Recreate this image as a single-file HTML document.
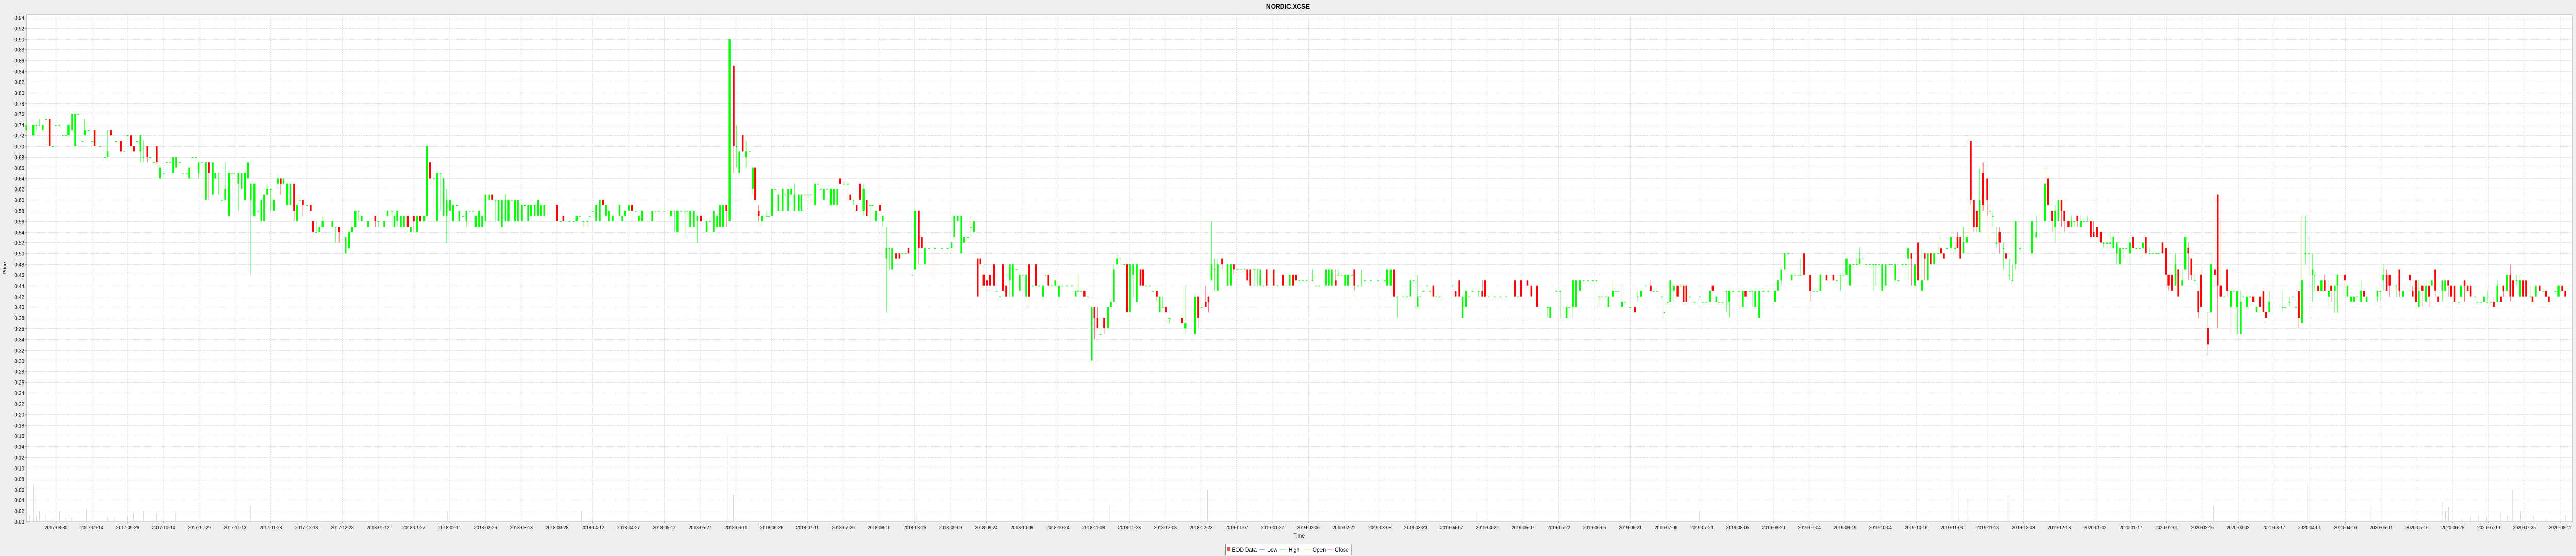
<!DOCTYPE html>
<html>
<head>
<meta charset="utf-8">
<style>
  html,body{margin:0;padding:0;background:#eeeeee;width:100%;height:100%;overflow:hidden;}
  body{font-family:"Liberation Sans",sans-serif;}
  svg{display:block;position:absolute;left:0;top:0;width:100vw;height:100vh;}
  text{font-family:"Liberation Sans",sans-serif;}
</style>
</head>
<body>
<svg id="chart" viewBox="0 0 5760 1080" preserveAspectRatio="none" xmlns="http://www.w3.org/2000/svg">
  <rect x="0" y="0" width="5760" height="1080" fill="#eeeeee"/>
  <text x="2880" y="17" text-anchor="middle" font-size="14" font-weight="bold" fill="#000">NORDIC.XCSE</text>
  <rect x="59" y="29" width="5693" height="984" fill="#ffffff" stroke="#aaaaaa" stroke-width="1"/>
  <g id="grid"></g>
  <g id="volume"></g>
  <g id="candles"></g>
  <g id="yaxis"></g>
  <g id="xaxis"></g>
  <text x="0" y="0" transform="translate(14,521) rotate(-90)" text-anchor="middle" font-size="11" fill="#000">Price</text>
  <text x="2905" y="1045" text-anchor="middle" font-size="12" fill="#000">Time</text>
  <g>
    <rect x="2739.5" y="1056.5" width="282" height="22" fill="#ffffff" stroke="#000" stroke-width="1"/>
    <g>
      <rect x="2743" y="1063" width="8" height="8" fill="#ff5555"/>
      <text x="2755" y="1072" font-size="12" fill="#000">EOD Data</text>
    </g>
    <g>
      <line x1="2815" y1="1067" x2="2829" y2="1067" stroke="#4455ee" stroke-width="1"/>
      <text x="2834" y="1072" font-size="12" fill="#000">Low</text>
    </g>
    <g>
      <line x1="2862" y1="1067" x2="2876" y2="1067" stroke="#55ee55" stroke-width="1"/>
      <text x="2881" y="1072" font-size="12" fill="#000">High</text>
    </g>
    <g>
      <line x1="2916" y1="1067" x2="2930" y2="1067" stroke="#eeee55" stroke-width="1"/>
      <text x="2935" y="1072" font-size="12" fill="#000">Open</text>
    </g>
    <g>
      <line x1="2966" y1="1067" x2="2980" y2="1067" stroke="#ee55ee" stroke-width="1"/>
      <text x="2985" y="1072" font-size="12" fill="#000">Close</text>
    </g>
  </g>
</svg>
<script>
// ---- data ----
const tickLabels = ["2017-08-30","2017-09-14","2017-09-29","2017-10-14","2017-10-29","2017-11-13","2017-11-28","2017-12-13","2017-12-28",
"2018-01-12","2018-01-27","2018-02-11","2018-02-26","2018-03-13","2018-03-28","2018-04-12","2018-04-27","2018-05-12","2018-05-27","2018-06-11","2018-06-26","2018-07-11","2018-07-26","2018-08-10","2018-08-25","2018-09-09","2018-09-24","2018-10-09","2018-10-24","2018-11-08","2018-11-23","2018-12-08","2018-12-23",
"2019-01-07","2019-01-22","2019-02-06","2019-02-21","2019-03-08","2019-03-23","2019-04-07","2019-04-22","2019-05-07","2019-05-22","2019-06-06","2019-06-21","2019-07-06","2019-07-21","2019-08-05","2019-08-20","2019-09-04","2019-09-19","2019-10-04","2019-10-19","2019-11-03","2019-11-18","2019-12-03","2019-12-18",
"2020-01-02","2020-01-17","2020-02-01","2020-02-16","2020-03-02","2020-03-17","2020-04-01","2020-04-16","2020-05-01","2020-05-16","2020-06-25","2020-07-10","2020-07-25","2020-08-11"];
const yTicks = [0,.02,.04,.06,.08,.10,.12,.14,.16,.18,.20,.22,.24,.26,.28,.30,.32,.34,.36,.38,.40,.42,.44,.46,.48,.50,.52,.54,.56,.58,.60,.62,.64,.66,.68,.70,.72,.74,.76,.78,.80,.82,.84,.86,.88,.90,.92,.94];

// days since 2017-08-18 (calendar days)
const days = [
0.0,2.9,4.1,5.4,6.8,8.3,9.8,10.9,12.2,13.7,15.2,16.6,17.6,19.1,20.4,21.7,23.5,24.4,25.9,27.4,28.5,30.8,32.7,33.9,35.4,37.6,39.4,40.9,42.2,43.8,45.0,46.2,47.6,48.9,50.6,51.8,53.3,54.4,55.8,57.5,58.7,60.1,61.3,62.6,64.2,65.5,67.0,68.0,69.4,70.9,72.0,73.3,74.9,76.2,77.9,79.0,80.4,81.6,83.1,84.7,86.0,87.0,88.5,89.9,91.4,92.6,93.8,95.3,96.8,98.2,99.4,100.7,102.1,103.4,105.1,106.3,107.5,109.0,110.3,111.9,113.1,114.4,115.6,117.3,118.8,119.8,121.2,122.5,123.8,127.9,129.3,130.7,133.4,134.9,136.1,137.5,138.8,140.1,142.9,145.8,147.1,149.6,151.0,
152.8,153.8,155.0,156.5,157.8,159.4,160.6,161.9,163.3,164.6,166.3,167.4,168.7,170.2,171.6,173.1,174.3,175.6,177.0,178.3,180.0,180.9,182.4,183.9,185.3,186.8,187.8,189.2,190.5,191.9,193.6,194.6,196.1,197.3,198.7,200.3,201.5,202.9,204.2,205.4,207.1,208.3,209.7,210.8,212.4,213.9,215.1,216.4,221.8,223.3,224.4,226.9,228.8,230.0,231.3,232.7,234.4,235.5,236.8,238.1,239.6,241.0,242.3,243.5,245.0,247.9,249.1,250.3,251.8,253.1,254.7,256.0,257.4,261.6,263.0,264.5,266.5,269.4,270.9,272.1,273.6,275.3,276.2,277.5,279.0,280.4,281.9,284.3,285.7,287.2,288.7,289.9,291.2,292.6,293.9,295.6,296.8,298.0,299.4,300.8,302.4,303.6,304.6,
306.1,307.5,309.4,310.3,311.6,313.0,314.4,316.0,317.2,318.4,319.7,321.1,322.7,323.9,325.3,326.7,327.9,329.6,330.9,332.0,333.3,334.8,336.2,337.4,338.9,340.1,341.8,343.3,344.3,345.7,347.0,348.5,349.9,351.1,352.6,353.6,355.1,356.8,357.8,359.4,360.7,361.9,363.6,364.8,366.1,367.5,368.7,370.4,371.4,372.9,374.2,375.5,377.3,379.7,382.7,385.1,386.6,387.8,389.2,390.8,392.0,393.4,394.7,396.1,397.6,398.8,400.1,401.4,402.7,404.4,405.6,406.9,408.1,409.5,411.0,412.3,413.8,415.1,416.4,417.9,419.1,420.8,421.9,423.2,424.9,426.0,427.2,428.6,430.0,431.5,433.0,435.0,436.9,438.5,439.6,440.8,442.2,443.6,445.2,446.4,447.7,449.0,450.4,452.0,453.2,454.5,456.0,
457.1,458.8,460.0,461.2,462.7,464.0,465.6,466.7,468.1,469.6,470.8,472.4,473.6,474.9,476.3,477.7,483.0,484.4,488.4,489.8,491.3,492.8,494.0,495.3,496.6,498.0,499.7,502.0,503.5,504.7,506.2,507.7,509.1,510.3,511.6,513.3,514.5,515.7,517.0,518.4,521.2,522.8,525.3,527.9,529.4,530.6,532.1,533.6,535.0,537.5,539.0,540.4,543.1,544.3,545.6,547.3,548.4,549.7,551.2,552.4,554.1,555.1,556.5,558.0,559.5,562.0,564.9,567.8,568.8,570.2,571.5,573.0,575.6,577.1,578.4,579.8,581.5,582.5,583.9,585.4,586.7,588.1,589.3,590.8,596.1,597.4,598.8,600.2,601.7,603.0,604.5,606.9,
608.5,609.7,611.2,613.6,616.1,618.5,622.2,623.4,624.7,627.3,629.0,631.4,635.8,636.9,639.5,641.0,643.7,644.9,646.4,647.6,649.3,650.8,652.7,654.7,656.1,657.3,658.6,660.1,661.3,663.0,664.3,665.4,666.9,668.1,670.3,672.3,673.5,674.9,676.7,678.9,680.1,681.6,683.5,684.6,686.0,687.1,688.6,690.1,691.5,692.6,693.8,695.2,697.2,699.4,700.8,702.1,703.8,704.8,706.3,707.5,708.9,710.6,711.7,713.3,715.8,717.4,718.5,720.2,721.3,722.6,724.3,726.0,728.0,730.9,732.1,733.4,734.8,736.3,737.8,739.2,740.7,741.5,743.0,745.6,747.0,748.5,749.8,752.4,755.2,756.6,
758.2,759.4,760.7,762.1,763.6,765.0,766.2,767.5,768.9,770.4,771.9,773.0,774.3,775.6,777.0,778.7,779.7,781.2,782.4,784.1,785.5,786.5,787.9,789.3,790.6,792.2,793.4,794.7,796.0,797.3,799.0,800.2,801.4,802.8,804.3,806.1,807.1,808.3,809.7,811.0,812.6,813.9,815.2,816.4,817.8,819.5,820.7,821.9,823.4,824.7,826.3,827.4,828.8,830.1,831.5,833.2,838.3,840.0,843.7,845.0,846.6,847.9,849.3,850.6,851.8,853.5,854.7,855.9,857.2,858.7,860.0,861.3,862.8,864.0,865.4,867.0,868.1,869.6,870.9,872.3,873.7,875.0,876.3,877.7,879.2,880.6,881.8,883.3,884.6,885.8,887.5,888.7,890.1,891.1,892.8,894.3,895.3,896.7,898.2,899.4,901.1,902.3,903.5,904.8,906.3,907.8,909.0,
911.7,913.1,914.7,915.9,917.1,918.5,919.8,921.4,922.7,924.0,925.4,926.6,928.1,929.4,930.7,932.0,933.5,935.0,936.1,937.5,943.1,944.2,945.7,947.2,948.6,949.8,951.1,952.5,954.0,955.5,956.4,957.9,959.2,960.5,962.3,963.3,964.8,966.0,969.0,970.1,971.6,972.9,974.0,975.8,977.0,978.1,982.6,983.8,985.1,986.5,987.7,990.5,991.8,993.3,996.2,997.3,998.7,999.9,1001.4,1002.9,1004.2,1005.3,1006.8,1008.1,1009.7,1010.9,1012.2,1013.4,1014.9,1016.6,1017.5,1019.0,1020.3,1021.6,1023.4,1024.4,1025.8,1027.1,1028.6,1030.2,1031.2,1032.7,1034.2,1035.3,1036.8,1038.1,1039.3,1040.8,1042.2,1043.6,1044.7,1046.4,1047.4,1048.8,1050.5,1051.8,1053.0,1054.2,1057.1,1058.3,1059.8,1061.1
];

// [open, high, low, close] per day above
const ohlc = [
[.73,.74,.73,.74],[.72,.74,.72,.74],[.74,.74,.73,.74],[.74,.75,.74,.74],[.73,.74,.73,.74],[.75,.75,.75,.75],[.75,.75,.70,.70],[.70,.70,.70,.70],[.74,.74,.74,.74],[.74,.74,.74,.74],
[.72,.72,.72,.72],[.72,.72,.72,.72],[.72,.74,.72,.74],[.73,.76,.73,.76],[.70,.76,.70,.76],[.76,.76,.76,.76],[.71,.71,.71,.71],[.72,.75,.72,.73],[.73,.73,.73,.73],[.71,.71,.71,.71],
[.73,.73,.70,.70],[.70,.70,.70,.70],[.68,.68,.68,.68],[.68,.73,.68,.69],[.73,.73,.72,.72],[.71,.71,.71,.71],[.71,.71,.69,.69],[.69,.69,.69,.69],[.72,.72,.72,.72],[.72,.72,.69,.70],
[.70,.70,.69,.69],[.71,.71,.71,.71],[.69,.72,.67,.72],[.68,.71,.67,.68],[.70,.70,.67,.68],[.68,.68,.68,.68],[.67,.67,.67,.67],[.70,.70,.67,.67],[.64,.69,.64,.66],[.65,.65,.65,.65],
[.67,.67,.67,.67],[.67,.67,.67,.67],[.65,.68,.65,.68],[.66,.68,.66,.68],[.67,.67,.67,.67],[.65,.65,.65,.65],[.65,.65,.65,.65],[.64,.66,.64,.66],[.68,.68,.68,.68],[.68,.68,.66,.68],
[.65,.67,.64,.67],[.67,.67,.67,.67],[.60,.67,.60,.67],[.67,.67,.60,.65],[.61,.67,.61,.67],[.64,.65,.64,.65],[.65,.65,.61,.65],[.60,.60,.60,.60],[.60,.67,.60,.62],[.57,.65,.57,.65],
[.65,.65,.60,.65],[.65,.65,.65,.65],[.63,.65,.58,.65],[.62,.65,.62,.65],[.60,.65,.60,.65],[.64,.67,.64,.67],[.60,.63,.46,.63],[.57,.63,.57,.63],[.58,.58,.58,.58],[.56,.60,.56,.60],
[.56,.61,.56,.61],[.61,.63,.61,.62],[.62,.62,.58,.62],[.58,.62,.58,.60],[.63,.65,.62,.64],[.64,.64,.61,.63],[.63,.64,.63,.64],[.59,.63,.59,.63],[.59,.63,.59,.63],[.63,.63,.56,.58],
[.56,.61,.56,.59],[.60,.60,.60,.60],[.60,.60,.57,.59],[.59,.59,.59,.59],[.59,.59,.58,.58],[.56,.56,.53,.54],[.54,.56,.54,.54],[.54,.55,.54,.55],[.55,.57,.55,.56],[.55,.56,.55,.56],
[.55,.55,.52,.55],[.55,.55,.52,.54],[.50,.53,.50,.53],[.51,.54,.51,.54],[.54,.56,.54,.55],[.55,.58,.55,.58],[.58,.58,.56,.58],[.56,.57,.56,.57],[.55,.56,.55,.56],[.57,.57,.55,.56],
[.56,.56,.55,.56],[.55,.56,.55,.56],[.57,.58,.57,.58],
[.58,.58,.55,.58],[.55,.57,.55,.57],[.56,.58,.55,.58],[.55,.57,.55,.57],[.55,.57,.55,.57],[.57,.57,.54,.55],[.54,.55,.54,.55],[.57,.57,.54,.56],[.54,.57,.54,.57],[.57,.57,.56,.56],
[.56,.57,.56,.57],[.57,.70,.57,.70],[.67,.67,.63,.64],[.64,.64,.64,.64],[.56,.65,.56,.65],[.65,.65,.58,.65],[.57,.64,.57,.64],[.57,.62,.52,.60],[.58,.60,.58,.60],[.56,.59,.56,.59],
[.59,.59,.59,.59],[.56,.58,.56,.58],[.57,.57,.57,.57],[.56,.58,.55,.58],[.58,.58,.58,.58],[.58,.58,.58,.58],[.55,.57,.55,.57],[.55,.58,.55,.58],[.55,.57,.55,.57],[.56,.61,.56,.61],
[.60,.61,.60,.61],[.61,.61,.60,.60],[.60,.60,.56,.60],[.56,.60,.56,.60],[.55,.60,.55,.60],[.56,.61,.56,.60],[.56,.60,.56,.60],[.60,.60,.60,.60],[.56,.60,.56,.60],[.56,.60,.56,.60],
[.56,.59,.56,.59],[.59,.59,.59,.59],[.56,.59,.56,.59],[.57,.59,.57,.59],[.57,.59,.57,.59],[.57,.60,.57,.60],[.57,.59,.57,.59],[.57,.59,.57,.59],[.59,.59,.56,.56],[.56,.56,.56,.56],
[.57,.57,.56,.56],[.56,.56,.56,.56],[.56,.56,.56,.56],[.56,.57,.56,.57],[.57,.57,.57,.57],[.56,.56,.55,.56],[.56,.56,.55,.56],[.57,.57,.57,.57],[.58,.58,.58,.58],[.56,.59,.56,.59],
[.56,.60,.56,.60],[.60,.60,.59,.59],[.57,.59,.57,.59],[.56,.58,.56,.58],[.56,.57,.56,.57],[.57,.59,.57,.59],[.56,.57,.56,.57],[.57,.58,.57,.58],[.58,.59,.58,.59],[.59,.59,.56,.58],
[.58,.58,.58,.58],[.56,.57,.56,.57],[.56,.58,.56,.58],[.56,.58,.56,.58],[.58,.58,.58,.58],[.58,.58,.58,.58],[.58,.58,.58,.58],[.57,.58,.56,.58],[.58,.58,.54,.58],[.54,.58,.54,.58],
[.58,.58,.58,.58],[.58,.58,.53,.58],[.58,.58,.58,.58],[.55,.58,.55,.58],[.55,.58,.55,.58],[.56,.57,.52,.57],[.57,.57,.55,.56],[.54,.56,.54,.56],[.56,.56,.56,.56],[.54,.58,.54,.58],
[.55,.57,.55,.57],[.55,.59,.55,.59],[.55,.59,.55,.59],[.59,.59,.55,.58],[.56,.90,.56,.90],[.85,.85,.65,.70],[.70,.74,.66,.70],[.65,.69,.65,.69],[.72,.72,.69,.69],[.68,.71,.66,.69],
[.69,.69,.69,.69],[.62,.66,.61,.66],[.66,.66,.60,.60],
[.58,.59,.56,.57],[.56,.57,.55,.57],[.57,.58,.57,.57],[.57,.57,.57,.57],[.57,.62,.57,.62],[.62,.62,.62,.62],[.58,.61,.58,.61],[.58,.62,.58,.62],[.61,.61,.61,.61],[.58,.62,.58,.62],
[.61,.62,.61,.62],[.58,.63,.58,.61],[.58,.61,.58,.61],[.58,.61,.58,.61],[.61,.61,.61,.61],[.61,.61,.59,.61],[.61,.61,.61,.61],[.59,.63,.59,.63],[.63,.63,.63,.63],[.62,.62,.62,.62],
[.60,.62,.60,.62],[.62,.62,.62,.62],[.59,.62,.59,.62],[.59,.62,.59,.62],[.59,.62,.59,.62],[.64,.64,.63,.63],[.63,.63,.63,.63],[.63,.63,.60,.63],[.61,.61,.60,.60],[.60,.60,.59,.60],
[.59,.59,.58,.58],[.63,.63,.60,.60],[.58,.63,.57,.62],[.60,.60,.57,.57],[.59,.59,.56,.59],[.59,.59,.59,.59],[.56,.58,.56,.58],[.59,.59,.58,.58],[.56,.57,.55,.57],[.49,.55,.39,.51],
[.51,.51,.47,.51],[.47,.51,.47,.51],[.50,.50,.49,.49],[.50,.50,.49,.49],[.50,.50,.50,.50],[.50,.50,.50,.50],[.51,.51,.50,.50],[.46,.46,.46,.46],[.47,.58,.47,.58],[.58,.58,.48,.51],
[.53,.53,.51,.51],[.48,.51,.48,.51],[.51,.51,.51,.51],[.51,.51,.45,.51],[.51,.51,.51,.51],[.51,.51,.51,.51],[.51,.52,.51,.52],[.53,.57,.53,.57],[.56,.57,.56,.57],[.50,.57,.50,.57],
[.52,.53,.52,.53],[.53,.53,.53,.53],[.55,.57,.53,.55],[.54,.56,.54,.56],[.49,.49,.42,.42],[.49,.49,.48,.48],[.46,.48,.44,.44],[.45,.45,.43,.44],[.46,.46,.43,.44],[.48,.48,.44,.44],
[.43,.43,.43,.43],[.42,.42,.42,.42],[.48,.48,.42,.43],[.44,.44,.42,.42],[.45,.48,.42,.48],[.42,.48,.42,.48],[.47,.47,.47,.47],[.43,.46,.43,.46],[.46,.46,.46,.46],[.42,.46,.42,.46],
[.48,.48,.40,.42],[.44,.44,.44,.44],[.48,.48,.44,.44],[.44,.44,.44,.44],[.42,.44,.42,.44],[.46,.46,.46,.46],[.46,.46,.44,.44],[.44,.44,.44,.44],[.44,.45,.44,.45],[.42,.44,.42,.44],
[.44,.44,.44,.44],[.44,.44,.44,.44],[.44,.44,.44,.44],[.42,.43,.42,.43],[.43,.46,.43,.43],[.43,.43,.43,.43],[.43,.43,.42,.42],[.42,.42,.42,.42],[.30,.40,.30,.40],[.40,.40,.34,.38],
[.38,.40,.36,.36],[.35,.35,.35,.35],[.38,.38,.35,.36],[.36,.40,.36,.40],[.40,.41,.40,.41],[.41,.48,.41,.47],[.48,.50,.48,.49],
[.49,.49,.49,.49],[.48,.48,.48,.48],[.48,.49,.39,.39],[.39,.48,.39,.48],[.46,.48,.42,.48],[.41,.48,.41,.48],[.47,.47,.44,.44],[.47,.47,.44,.44],[.44,.44,.44,.44],[.44,.44,.44,.44],
[.43,.43,.43,.43],[.43,.43,.41,.42],[.39,.42,.39,.42],[.40,.42,.40,.40],[.40,.40,.39,.39],[.38,.38,.37,.38],[.38,.38,.37,.37],[.36,.44,.35,.37],[.35,.42,.35,.42],[.42,.42,.36,.38],
[.40,.40,.40,.40],[.41,.44,.40,.40],[.42,.42,.39,.41],[.45,.56,.45,.48],[.47,.49,.43,.47],[.43,.49,.43,.48],[.49,.49,.47,.48],[.44,.48,.44,.48],[.44,.48,.44,.48],[.48,.48,.46,.47],
[.47,.47,.47,.47],[.47,.47,.47,.47],[.47,.47,.47,.47],[.47,.47,.45,.45],[.47,.47,.44,.44],[.47,.47,.44,.47],[.47,.47,.44,.47],[.44,.47,.44,.47],[.44,.44,.44,.44],[.47,.47,.44,.44],
[.47,.47,.44,.44],[.44,.44,.44,.44],[.46,.46,.44,.44],[.44,.46,.44,.46],[.46,.46,.44,.44],[.46,.46,.45,.45],[.45,.45,.45,.45],[.45,.45,.45,.45],[.45,.45,.45,.45],[.45,.47,.45,.45],
[.44,.44,.44,.44],[.44,.44,.44,.44],[.44,.47,.44,.47],[.44,.47,.44,.47],[.44,.47,.44,.47],[.45,.47,.44,.44],[.46,.47,.46,.46],[.46,.46,.46,.46],[.44,.46,.44,.46],[.44,.46,.44,.46],
[.46,.46,.42,.46],[.47,.47,.43,.44],[.44,.44,.44,.44],[.44,.47,.44,.44],[.45,.45,.45,.45],[.45,.45,.45,.45],[.45,.45,.45,.45],[.45,.45,.45,.45],[.44,.47,.44,.47],[.44,.47,.44,.47],
[.47,.47,.42,.42],[.42,.42,.38,.42],[.42,.42,.42,.42],[.42,.42,.42,.42],[.42,.45,.42,.45],[.45,.45,.45,.45],[.40,.46,.40,.42],[.42,.42,.42,.42],[.43,.43,.43,.43],[.44,.44,.44,.44],
[.43,.43,.43,.43],[.44,.44,.42,.42],[.42,.42,.42,.42],[.42,.42,.42,.42],[.44,.44,.44,.44],[.43,.43,.42,.42],[.45,.45,.42,.42],[.38,.42,.38,.42],[.40,.43,.40,.43],[.42,.42,.42,.42],
[.43,.43,.43,.43],[.43,.43,.42,.43],
[.43,.45,.42,.42],[.45,.45,.42,.42],[.42,.42,.42,.42],[.42,.42,.42,.42],[.42,.42,.42,.42],[.42,.42,.42,.42],[.45,.45,.42,.42],[.42,.42,.42,.42],[.45,.46,.42,.42],[.45,.45,.44,.44],
[.44,.44,.42,.42],[.44,.44,.40,.40],[.40,.40,.38,.40],[.38,.40,.38,.40],[.43,.43,.43,.43],[.43,.43,.38,.43],[.38,.40,.38,.40],[.40,.40,.40,.40],[.40,.45,.38,.45],[.40,.45,.40,.45],
[.43,.45,.43,.45],[.45,.45,.45,.45],[.45,.45,.45,.45],[.45,.45,.45,.45],[.45,.45,.45,.45],[.42,.42,.40,.42],[.42,.42,.42,.42],[.42,.42,.42,.42],[.40,.42,.40,.42],[.42,.45,.42,.43],
[.43,.43,.43,.43],[.43,.43,.43,.43],[.40,.44,.40,.41],[.41,.41,.41,.41],[.40,.40,.40,.40],[.40,.40,.39,.39],[.42,.43,.41,.42],[.42,.43,.41,.43],[.44,.44,.44,.44],[.44,.45,.43,.43],
[.43,.43,.43,.43],[.43,.43,.43,.43],[.42,.42,.38,.42],[.39,.39,.39,.39],[.41,.41,.41,.41],[.41,.45,.41,.45],[.43,.44,.41,.44],[.44,.44,.42,.42],[.44,.44,.42,.44],[.44,.44,.41,.41],
[.44,.44,.41,.41],[.42,.42,.42,.42],[.41,.41,.41,.41],[.42,.42,.42,.42],[.41,.41,.41,.41],[.41,.41,.41,.41],[.41,.43,.41,.43],[.44,.44,.41,.43],[.41,.42,.41,.42],[.41,.41,.41,.41],
[.41,.41,.41,.41],[.43,.43,.39,.43],[.41,.43,.38,.43],[.43,.43,.43,.43],[.43,.43,.43,.43],[.40,.43,.40,.43],[.43,.43,.42,.42],[.43,.43,.43,.43],[.43,.43,.40,.43],[.40,.43,.40,.43],
[.38,.43,.38,.43],[.43,.43,.43,.43],[.43,.43,.43,.43],[.41,.44,.41,.43],[.43,.45,.43,.45],[.45,.47,.44,.47],[.47,.50,.47,.50],[.50,.50,.50,.50],[.45,.46,.45,.46],[.46,.46,.46,.46],
[.46,.46,.46,.46],[.46,.49,.46,.46],[.50,.50,.46,.46],[.46,.46,.41,.43],[.43,.43,.43,.43],[.43,.43,.43,.43],[.43,.46,.43,.46],[.46,.46,.45,.45],[.46,.46,.45,.45],[.45,.45,.45,.45],
[.46,.46,.43,.46],[.46,.46,.46,.46],[.46,.49,.46,.49],[.44,.48,.44,.48],[.48,.48,.48,.48],[.48,.49,.48,.48],[.48,.51,.48,.49],[.49,.49,.49,.49],[.48,.48,.48,.48],[.48,.48,.48,.48],
[.48,.48,.43,.48],[.48,.48,.44,.48],[.48,.48,.48,.48],[.43,.48,.43,.48],[.44,.48,.44,.48],[.48,.48,.48,.48],[.48,.48,.48,.48],[.45,.48,.45,.48],[.45,.45,.45,.45],[.48,.48,.48,.48],
[.48,.48,.48,.48],[.49,.51,.45,.51],[.50,.50,.44,.49],[.44,.48,.44,.48],[.52,.52,.45,.45],[.43,.51,.43,.45],[.50,.50,.45,.49],[.45,.50,.45,.50],[.50,.50,.48,.48],[.48,.50,.48,.50],
[.50,.52,.50,.50],[.51,.53,.48,.50],[.50,.50,.49,.49],[.51,.53,.51,.51],[.51,.53,.51,.53],[.51,.52,.50,.51],[.53,.54,.51,.51],[.53,.53,.49,.49],[.50,.55,.50,.52],[.52,.72,.52,.53],
[.71,.71,.59,.60],[.60,.60,.54,.55],[.58,.58,.54,.55],[.54,.66,.54,.60],[.65,.67,.58,.59],[.64,.64,.57,.60],[.58,.59,.52,.58],[.57,.58,.55,.57],[.52,.55,.51,.52],[.54,.55,.50,.52],
[.51,.52,.47,.51],[.50,.50,.49,.49],[.46,.49,.45,.46],[.45,.48,.45,.45],[.48,.56,.47,.56],[.51,.52,.50,.51],[.50,.56,.49,.56],[.53,.57,.53,.54],[.56,.66,.56,.63],[.64,.64,.56,.59],
[.58,.58,.54,.56],[.55,.59,.52,.58],[.56,.60,.56,.60],[.60,.60,.55,.58],[.58,.58,.54,.56],[.56,.56,.55,.55],[.55,.57,.55,.56],[.56,.56,.55,.56],[.57,.57,.55,.56],[.55,.57,.55,.56],
[.56,.56,.56,.56],[.56,.57,.56,.56],[.56,.56,.53,.53],[.54,.56,.53,.53],[.55,.55,.53,.53],[.54,.54,.52,.52],[.52,.52,.51,.52],[.52,.52,.51,.52],[.52,.54,.51,.52],[.51,.53,.51,.53],
[.50,.52,.48,.52],[.48,.51,.48,.51],[.51,.51,.49,.51],[.51,.51,.51,.51],[.50,.53,.48,.52],[.53,.53,.51,.51],[.51,.51,.51,.51],[.51,.51,.51,.51],[.51,.52,.49,.52],[.53,.53,.50,.50],
[.50,.51,.50,.50],[.50,.50,.50,.50],[.50,.50,.50,.50],[.50,.50,.50,.50],[.52,.52,.50,.50],[.51,.51,.44,.46],[.46,.46,.43,.44],[.46,.46,.43,.43],[.44,.50,.44,.48],[.47,.47,.42,.42],
[.44,.47,.44,.45],[.47,.53,.47,.53],[.51,.52,.45,.50],[.49,.49,.45,.46],[.45,.46,.45,.45],[.43,.43,.38,.39],[.46,.47,.40,.40],
[.36,.39,.31,.33],[.39,.50,.39,.48],[.47,.47,.46,.46],[.61,.61,.36,.44],[.44,.56,.42,.42],[.42,.42,.42,.42],[.47,.47,.42,.43],[.40,.43,.35,.43],[.43,.43,.43,.43],[.40,.43,.35,.43],
[.35,.43,.35,.41],[.42,.42,.42,.42],[.40,.42,.40,.42],[.42,.42,.42,.42],[.42,.42,.41,.41],[.39,.40,.39,.40],[.42,.42,.39,.40],[.43,.43,.39,.39],[.39,.39,.37,.38],[.39,.43,.39,.41],
[.40,.43,.39,.40],[.40,.40,.40,.40],[.41,.42,.40,.41],[.42,.42,.42,.42],[.40,.41,.40,.40],[.43,.43,.36,.38],[.37,.57,.37,.45],[.50,.57,.48,.50],[.50,.53,.46,.50],[.46,.50,.41,.47],
[.46,.46,.43,.46],[.44,.44,.43,.43],[.43,.45,.43,.45],[.45,.46,.43,.43],[.42,.45,.40,.43],[.44,.44,.41,.43],[.43,.44,.39,.44],[.44,.46,.39,.46],[.46,.46,.42,.45],[.42,.44,.42,.44],
[.41,.42,.41,.42],[.41,.42,.41,.42],[.42,.42,.42,.42],[.41,.45,.41,.43],[.43,.43,.42,.42],[.41,.42,.41,.42],[.42,.43,.41,.43],[.43,.43,.41,.43],[.45,.48,.43,.46],[.46,.47,.43,.43],
[.46,.46,.42,.44],[.44,.44,.42,.44],[.47,.47,.42,.43],[.42,.43,.42,.43],[.46,.46,.43,.45],[.43,.44,.42,.42],[.45,.45,.41,.41],[.40,.45,.40,.43],[.44,.44,.40,.43],[.41,.45,.41,.44],
[.44,.44,.40,.42],[.44,.45,.44,.45],[.47,.47,.42,.43],[.42,.42,.41,.41],[.43,.45,.41,.45],[.43,.45,.43,.45],[.45,.45,.42,.44],[.44,.44,.42,.42],[.44,.44,.41,.41],[.41,.41,.41,.41],
[.42,.44,.41,.44],[.45,.45,.41,.44],[.44,.44,.43,.43],[.44,.44,.42,.42],[.42,.42,.42,.42],[.41,.41,.41,.41],[.41,.41,.41,.41],[.41,.42,.41,.42],[.41,.43,.41,.41],[.41,.41,.41,.41],
[.41,.42,.40,.40],[.41,.45,.41,.44],[.42,.42,.41,.41],[.44,.44,.42,.43],[.43,.46,.43,.46],[.46,.48,.41,.42],[.45,.45,.42,.42],[.45,.46,.44,.45],[.42,.46,.42,.45],[.45,.45,.42,.42],
[.45,.45,.42,.42],[.42,.44,.42,.42],[.42,.42,.41,.41],[.42,.44,.42,.44],[.44,.44,.43,.43],[.43,.43,.43,.43],[.43,.43,.42,.42],[.42,.42,.41,.41],[.43,.43,.43,.43],[.42,.44,.42,.44],
[.44,.44,.43,.43],[.43,.43,.42,.42]
];

// volume (drawn on price axis scale, light grey)
const volDays = [1.3,3.0,4.1,5.4,8.2,11.0,13.8,16.6,18.9,25.0,34.0,37.0,42.2,44.9,49.0,54.4,62.4,93.6,175.9,232.0,293.3,295.5,372.1,452.5,493.6,605.8,699.3,807.7,811.4,828.2,914.2,953.5,979.6,1009.9,1011.0,1012.3,1017.8,1021.5,1024.7,1028.2,1034.2,1037.0,1038.9,1042.4,1047.7,1053.1,1061.3];
const volumes = [.011,.070,.010,.020,.013,.005,.018,.007,.007,.023,.008,.008,.010,.016,.020,.016,.016,.030,.020,.020,.160,.050,.020,.030,.060,.020,.020,.060,.040,.050,.030,.070,.030,.035,.020,.028,.005,.008,.012,.008,.017,.010,.060,.020,.010,.005,.012];

// ---- axes ----
const PL = 59, PR = 5752, PT = 29, PB = 1013;
const DAY_MAX = (PR - PL) / 5.35;
const Y_MAX = (PB - PT) / 1041.5;
function xScale(d){ return PL + d / DAY_MAX * (PR - PL); }
function yScale(p){ return PB - p / Y_MAX * (PB - PT); }
function xTick(i){ return 125 + i * 79.99; }

const NS = "http://www.w3.org/2000/svg";
function mk(tag, attrs){ const e = document.createElementNS(NS, tag); for (const k in attrs) e.setAttribute(k, attrs[k]); return e; }

const grid = document.getElementById('grid');
const yaxis = document.getElementById('yaxis');
const xaxis = document.getElementById('xaxis');

yTicks.forEach(function(v){
  const y = Math.round(yScale(v)) + 0.5;
  const g = mk('line', {x1: PL, x2: PR, y1: y, y2: y, stroke: '#d4d4d4', 'stroke-width': 1, 'stroke-dasharray': '2,2'});
  
  
  grid.appendChild(g);
  const tk = mk('line', {x1: PL - 3, x2: PL, y1: y, y2: y, stroke: '#888', 'stroke-width': 1});
  
  
  yaxis.appendChild(tk);
  const t = mk('text', {x: PL - 5, y: y + 4, 'text-anchor': 'end', 'font-size': 11, fill: '#000'});
  t.textContent = v.toFixed(2);
  
  
  yaxis.appendChild(t);
});

tickLabels.forEach(function(lab, i){
  const x = Math.round(xTick(i)) + 0.5;
  const g = mk('line', {x1: x, x2: x, y1: PT, y2: PB, stroke: '#d4d4d4', 'stroke-width': 1, 'stroke-dasharray': '2,2'});
  
  
  grid.appendChild(g);
  const tk = mk('line', {x1: x, x2: x, y1: PB, y2: PB + 3, stroke: '#888', 'stroke-width': 1});
  
  
  xaxis.appendChild(tk);
  const t = mk('text', {x: x, y: PB + 15, 'text-anchor': 'middle', 'font-size': 10, fill: '#000'});
  t.textContent = lab;
  
  
  xaxis.appendChild(t);
});

// volume bars
const vol = document.getElementById('volume');
volDays.forEach(function(d, i){
  const x = xScale(d);
  const y = yScale(volumes[i]);
  const r = mk('rect', {x: x - 0.75, y: y, width: 1.5, height: PB - y, fill: '#d6d6d6'});
  
  
  vol.appendChild(r);
});

// candles
const cg = document.getElementById('candles');
days.forEach(function(d, i){
  const q = ohlc[i]; if (!q) return;
  const o = q[0], h = q[1], l = q[2], c = q[3];
  const x = xScale(d);
  const up = c >= o;
  const col = up ? '#00ff00' : '#ff0000';
  const g = mk('g', {});
  
  
  if (h > l) {
    const w = mk('line', {x1: x, x2: x, y1: yScale(h), y2: yScale(l), stroke: up ? '#55ff55' : '#ff5555', 'stroke-width': 1});
    
    
    g.appendChild(w);
  }
  const top = yScale(Math.max(o, c)), bot = yScale(Math.min(o, c));
  const b = mk('rect', {x: x - 2, y: top, width: 4, height: Math.max(bot - top, 1.5), fill: col});
  
  
  g.appendChild(b);
  cg.appendChild(g);
});
</script>
</body>
</html>
